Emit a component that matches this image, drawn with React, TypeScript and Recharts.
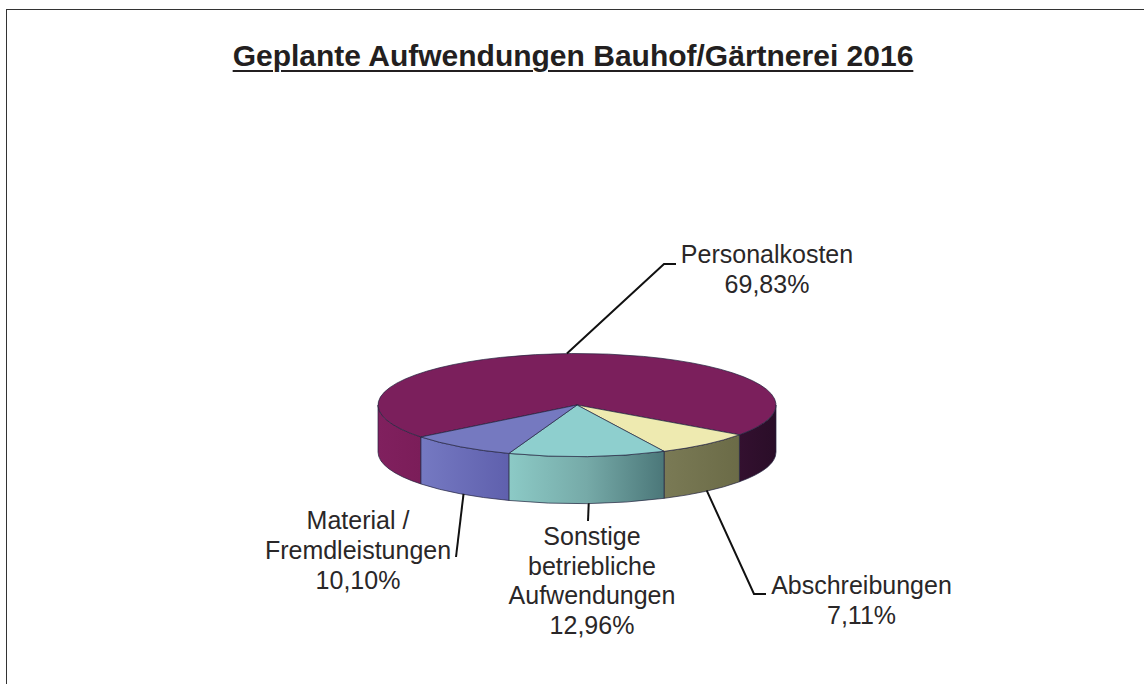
import React from "react";
import { PieChart, Pie } from "recharts";

const categories = ["Personalkosten", "Abschreibungen", "Sonstige betriebliche Aufwendungen", "Material / Fremdleistungen"];
const shares = [69.83, 7.11, 12.96, 10.1];
const shareLabels = ["69,83%", "7,11%", "12,96%", "10,10%"];
const labelLines = [
  ["Personalkosten", "69,83%"],
  ["Abschreibungen", "7,11%"],
  ["Sonstige", "betriebliche", "Aufwendungen", "12,96%"],
  ["Material /", "Fremdleistungen", "10,10%"],
];

const topColors = ["#7b1f5c", "#eeeab0", "#8ecfce", "#7579c0"];

const CX = 577;
const CY = 405;
const RX = 199;
const SQUASH = 0.259; // ry / rx of the tilted disc
const DEPTH = 47;

const data = categories.map((name, i) => ({ name, value: shares[i], share: shareLabels[i] }));

// the original 3D view foreshortens the angles a little
const warp = (deg: number) => deg + 4 * Math.sin((2 * (deg - 36) * Math.PI) / 180);

const rimPoint = (deg: number, rx: number, ry: number) => {
  const r = (deg * Math.PI) / 180;
  return [CX + rx * Math.cos(r), CY + ry * Math.sin(r)];
};

function wallFill(index: number, k: number) {
  if (index === 0) return k === 0 ? "url(#wall-left)" : "url(#wall-right)";
  return `url(#wall-${index})`;
}

function Slice3D(props: any) {
  const { startAngle, endAngle, outerRadius, index } = props;
  const rx = outerRadius;
  const ry = rx * SQUASH;
  // screen angles, clockwise from 3 o'clock
  const a = warp(-startAngle);
  const b = warp(-endAngle);
  const [ax, ay] = rimPoint(a, rx, ry);
  const [bx, by] = rimPoint(b, rx, ry);
  const large = b - a > 180 ? 1 : 0;

  const walls = [0, 1].map((k) => {
    const lo = Math.max(a, k * 360);
    const hi = Math.min(b, k * 360 + 180);
    if (hi <= lo) return null;
    const [x0, y0] = rimPoint(lo, rx, ry);
    const [x1, y1] = rimPoint(hi, rx, ry);
    return (
      <path
        key={k}
        d={`M${x0},${y0} A${rx},${ry} 0 0 1 ${x1},${y1} L${x1},${y1 + DEPTH} A${rx},${ry} 0 0 0 ${x0},${y0 + DEPTH} Z`}
        fill={wallFill(index, k)}
        stroke="#23233f"
        strokeOpacity={0.7}
        strokeWidth={1}
      />
    );
  });

  return (
    <g>
      {walls}
      <path
        d={`M${CX},${CY} L${ax},${ay} A${rx},${ry} 0 ${large} 1 ${bx},${by} Z`}
        fill={topColors[index]}
        stroke="#23233f"
        strokeOpacity={0.7}
        strokeWidth={1}
      />
    </g>
  );
}

// leader elbows and text blocks for each label
const labelLayout = [
  { dx: -9, front: false, pts: [[664, 264], [676, 264]], textX: 767, textY: 263, step: 30 },
  { dx: -3, front: true, pts: [[754, 594], [766, 594]], textX: 861.5, textY: 594, step: 30 },
  { dx: -8, front: true, pts: [[588, 521]], textX: 592, textY: 545, step: 29.5 },
  { dx: 3, front: true, pts: [[456, 557]], textX: 358, textY: 529, step: 30 },
];

function PieLabel(props: any) {
  const { midAngle, index, outerRadius } = props;
  const layout = labelLayout[index];
  const [mx, my] = rimPoint(-midAngle, outerRadius, outerRadius * SQUASH);
  const start = [mx + layout.dx, my + (layout.front ? DEPTH : 0)];
  const points = [start, ...layout.pts].map((p) => p.join(",")).join(" ");
  return (
    <g>
      <polyline points={points} fill="none" stroke="#111" strokeWidth={2} />
      <text textAnchor="middle" fontFamily="Liberation Sans" fontSize={25} fill="#2a2728">
        {labelLines[index].map((line, i) => (
          <tspan key={line} x={layout.textX} y={layout.textY + i * layout.step}>
            {line}
          </tspan>
        ))}
      </text>
    </g>
  );
}

export default function App() {
  return (
    <div style={{ position: "absolute", left: 0, top: 0, width: 1144, height: 684, overflow: "hidden", background: "#fff" }}>
      <div style={{ position: "absolute", left: 6, top: 9, width: 1138, height: 1, background: "#333" }} />
      <div style={{ position: "absolute", left: 6, top: 9, width: 1, height: 675, background: "#333" }} />
      <div
        style={{
          position: "absolute",
          left: 1,
          width: 1144,
          top: 39,
          textAlign: "center",
          fontFamily: "Liberation Sans",
          fontWeight: "bold",
          fontSize: 30,
          color: "#231f20",
          textDecoration: "underline",
          textDecorationThickness: 2,
          textUnderlineOffset: 4,
          whiteSpace: "nowrap",
        }}
      >
        Geplante Aufwendungen Bauhof/Gärtnerei 2016
      </div>
      <div style={{ position: "absolute", left: 0, top: 0 }}>
        <PieChart width={1144} height={684}>
          <defs>
            <linearGradient id="wall-left" x1="0" x2="1" y1="0" y2="0">
              <stop offset="0" stopColor="#80205e" />
              <stop offset="1" stopColor="#7b1d59" />
            </linearGradient>
            <linearGradient id="wall-right" x1="0" x2="1" y1="0" y2="0">
              <stop offset="0" stopColor="#33102f" />
              <stop offset="1" stopColor="#2a0d28" />
            </linearGradient>
            <linearGradient id="wall-1" x1="0" x2="1" y1="0" y2="0">
              <stop offset="0" stopColor="#7a7a55" />
              <stop offset="1" stopColor="#6b6b47" />
            </linearGradient>
            <linearGradient id="wall-2" x1="0" x2="1" y1="0" y2="0">
              <stop offset="0" stopColor="#8ccac6" />
              <stop offset="0.5" stopColor="#76aaa8" />
              <stop offset="1" stopColor="#4b7779" />
            </linearGradient>
            <linearGradient id="wall-3" x1="0" x2="1" y1="0" y2="0">
              <stop offset="0" stopColor="#7579c2" />
              <stop offset="1" stopColor="#5f60ad" />
            </linearGradient>
          </defs>
          <Pie
            data={data}
            dataKey="value"
            nameKey="name"
            cx={CX}
            cy={CY}
            innerRadius={0}
            outerRadius={RX}
            startAngle={-144}
            endAngle={-504}
            stroke="none"
            shape={Slice3D}
            label={PieLabel}
            labelLine={false}
            isAnimationActive={false}
          />
        </PieChart>
      </div>
    </div>
  );
}
